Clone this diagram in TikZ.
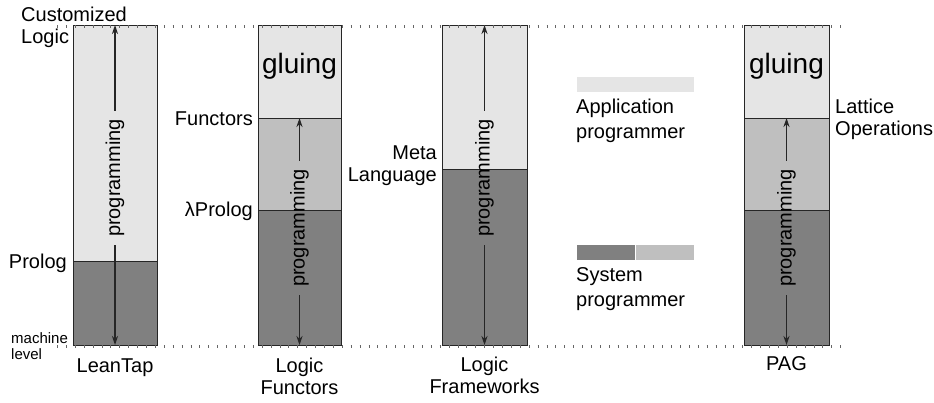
\documentclass[tikz,border=0pt]{standalone}
\usepackage{fontspec}
\setmainfont{Liberation Sans}
\usetikzlibrary{positioning, arrows.meta, calc}

\colorlet{appgray}{black!10}
\colorlet{midgray}{black!25}
\colorlet{sysgray}{black!50}

\tikzset{
  layer/.style={draw=black!85, line width=1pt},
  tag/.style={font=\fontsize{20}{22}\selectfont, inner sep=1pt, align=center},
  legendtag/.style={font=\fontsize{20}{25}\selectfont, inner sep=1pt, align=left},
  smalltag/.style={font=\fontsize{15}{16}\selectfont, inner sep=1pt, align=left},
  glue/.style={font=\fontsize{28}{30}\selectfont, inner sep=0pt},
  prog/.style={font=\fontsize{20}{22}\selectfont, rotate=90, inner xsep=8pt, inner ysep=1pt},
  progarrow/.style={-{Stealth[length=9pt, width=6pt]}, line width=1.2pt, color=black!85},
  ruler/.style={draw=black!60, line width=3pt, dash pattern=on 1pt off 7.9pt}
}

\begin{document}
\begin{tikzpicture}[x=1pt, y=-1pt]
  \useasboundingbox (0,0) rectangle (934,402);

  % LeanTap
  \filldraw[layer, fill=appgray] (73,25) rectangle (157,261);
  \filldraw[layer, fill=sysgray] (73,261) rectangle (157,345);
  \coordinate (top1) at (115,25);
  \coordinate (bot1) at (115,345);

  % Logic Functors
  \filldraw[layer, fill=appgray] (258,25) rectangle (341,118);
  \filldraw[layer, fill=midgray] (258,118) rectangle (341,210);
  \filldraw[layer, fill=sysgray] (258,210) rectangle (341,345);
  \coordinate (top2) at (299.5,118);
  \coordinate (bot2) at (299.5,345);

  % Logic Frameworks
  \filldraw[layer, fill=appgray] (442,25) rectangle (527,169);
  \filldraw[layer, fill=sysgray] (442,169) rectangle (527,345);
  \coordinate (top3) at (484.5,25);
  \coordinate (bot3) at (484.5,345);

  % PAG
  \filldraw[layer, fill=appgray] (744,25) rectangle (829,118);
  \filldraw[layer, fill=midgray] (744,118) rectangle (829,210);
  \filldraw[layer, fill=sysgray] (744,210) rectangle (829,345);
  \coordinate (top4) at (786.5,118);
  \coordinate (bot4) at (786.5,345);

  % dotted levels
  \coordinate (lvlA) at (57,26);
  \coordinate (lvlB) at (845,26);
  \coordinate (lvlC) at (57,346);
  \coordinate (lvlD) at (845,346);
  \draw[ruler] (lvlA) -- (lvlB);
  \draw[ruler] (lvlC) -- (lvlD);

  % programming arrows
  \node[prog] (prog1) at (115,178) {programming};
  \node[prog] (prog2) at (299.5,228) {programming};
  \node[prog] (prog3) at (484.5,178) {programming};
  \node[prog] (prog4) at (786.5,228) {programming};
  \foreach \i in {1,...,4} {
    \draw[progarrow] (prog\i.east) -- (top\i);
    \draw[progarrow] (prog\i.west) -- (bot\i);
  }

  \node[glue] (glue2) at (299.5,66) {gluing};
  \node[glue] (glue4) at (786.5,66) {gluing};

  % labels
  \node[tag, align=left, anchor=west] (custom) at (20,27) {Customized\\Logic};
  \node[tag, anchor=east] (prolog) at (68,263) {Prolog};
  \node[smalltag, anchor=west] (machine) at (10,346) {machine\\level};
  \node[tag] (leantap) at (115,368) {LeanTap};

  \node[tag, anchor=east] (functors) at (254,119) {Functors};
  \node[tag, anchor=east] (lprolog) at (254,211) {λProlog};
  \node[tag] (logfun) at (299.5,376) {Logic\\Functors};

  \node[tag, align=right, anchor=east] (meta) at (438,166) {Meta\\Language};
  \node[tag] (logfw) at (484.5,375) {Logic\\Frameworks};

  \node[tag, align=left, anchor=west] (lattice) at (834,119) {Lattice\\Operations};
  \node[tag] (pag) at (786.5,364) {PAG};

  % legend
  \fill[appgray] (577,77) rectangle (694,92);
  \node[legendtag, anchor=west] (applab) at (575,121) {Application\\programmer};
  \fill[sysgray] (577,245) rectangle (635,260);
  \fill[midgray] (636,245) rectangle (694,260);
  \node[legendtag, anchor=west] (syslab) at (575,289) {System\\programmer};
\end{tikzpicture}
\end{document}
